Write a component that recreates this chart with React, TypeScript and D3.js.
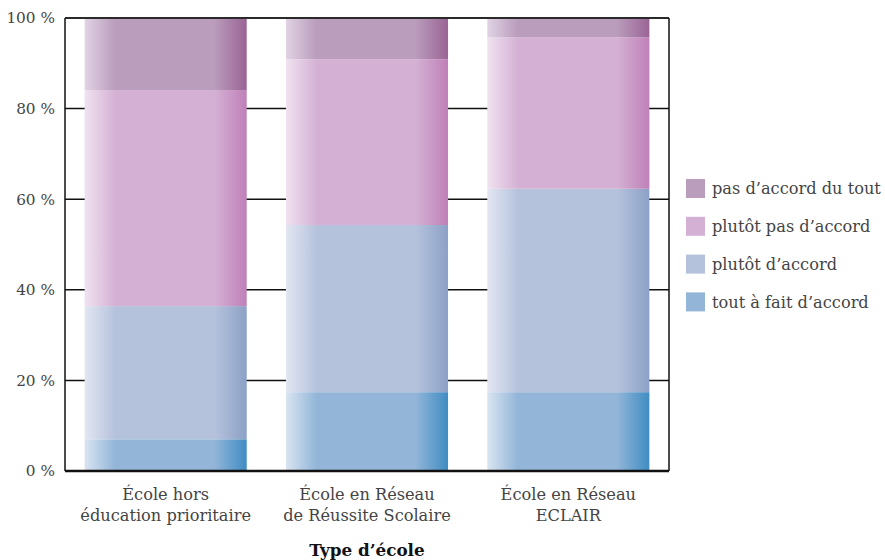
import React from "react";
import * as d3 from "d3";

const categories = [
  ["École hors", "éducation prioritaire"],
  ["École en Réseau", "de Réussite Scolaire"],
  ["École en Réseau", "ECLAIR"],
];
const seriesNames = [
  "tout à fait d’accord",
  "plutôt d’accord",
  "plutôt pas d’accord",
  "pas d’accord du tout",
];
const toutAFait = [7, 17.4, 17.4];
const plutotDaccord = [29.4, 36.9, 44.9];
const plutotPas = [47.7, 36.6, 33.4];
const pasDuTout = [15.9, 9.1, 4.3];
const yTicks = [0, 20, 40, 60, 80, 100];

const baseColors = ["#92B5D8", "#B5C2DC", "#D4B1D4", "#BA9CBC"];
const lightColors = ["#D9E4F1", "#E3E6F2", "#F0E2F0", "#E0D3E4"];
const darkColors = ["#3F8DC3", "#8CA1C6", "#BF80B8", "#9A6495"];

const W = 885;
const H = 560;
const left = 65;
const right = 669;
const top = 18;
const bottom = 471;
const font = "'DejaVu Serif', serif";

export default function App() {
  const series = [toutAFait, plutotDaccord, plutotPas, pasDuTout];
  const x = d3
    .scaleBand<number>()
    .domain(d3.range(categories.length))
    .range([left, right])
    .paddingInner(0.195)
    .paddingOuter(0.0975);
  const y = d3.scaleLinear().domain([0, 100]).range([bottom, top]);

  const rows = categories.map((_, i) => {
    const r: Record<string, number> = {};
    series.forEach((s, k) => (r["s" + k] = s[i]));
    return r;
  });
  const stacked = d3.stack<Record<string, number>>().keys(series.map((_, k) => "s" + k))(rows);

  return (
    <svg width={W} height={H} style={{ display: "block", position: "absolute", left: 0, top: 0 }}>
      <defs>
        {baseColors.map((c, k) => (
          <linearGradient key={k} id={"grad" + k} x1="0" x2="1" y1="0" y2="0">
            <stop offset="0" stopColor={lightColors[k]} />
            <stop offset="0.19" stopColor={c} />
            <stop offset="0.8" stopColor={c} />
            <stop offset="1" stopColor={darkColors[k]} />
          </linearGradient>
        ))}
      </defs>
      <rect width={W} height={H} fill="#fff" />
      {/* gridlines */}
      {yTicks.slice(1, -1).map((t) => (
        <line key={t} x1={left} x2={right} y1={y(t)} y2={y(t)} stroke="#111" strokeWidth={1.5} />
      ))}
      {/* stacked bars */}
      {stacked.map((layer, k) =>
        layer.map((d, i) => (
          <rect
            key={k + "-" + i}
            x={x(i)}
            width={x.bandwidth()}
            y={y(d[1])}
            height={y(d[0]) - y(d[1])}
            fill={`url(#grad${k})`}
          />
        ))
      )}
      {/* frame */}
      <line x1={left} x2={right} y1={top} y2={top} stroke="#2a2a2a" strokeWidth={2} />
      <line x1={left} x2={left} y1={top} y2={bottom} stroke="#111" strokeWidth={1.5} />
      <line x1={right} x2={right} y1={top} y2={bottom} stroke="#111" strokeWidth={1.5} />
      <line x1={left} x2={right} y1={bottom} y2={bottom} stroke="#111" strokeWidth={2.5} />
      {/* y tick labels */}
      {yTicks.map((t) => (
        <text
          key={t}
          x={55}
          y={y(t)}
          dy="0.35em"
          textAnchor="end"
          fontFamily={font}
          fontSize={15.3}
          fill="#444"
        >
          {t} %
        </text>
      ))}
      {/* category labels */}
      {categories.map((lines, i) => (
        <text
          key={i}
          x={(x(i) ?? 0) + x.bandwidth() / 2}
          textAnchor="middle"
          fontFamily={font}
          fontSize={16.2}
          fill="#444"
        >
          {lines.map((l, j) => (
            <tspan key={j} x={(x(i) ?? 0) + x.bandwidth() / 2} y={500 + j * 21}>
              {l}
            </tspan>
          ))}
        </text>
      ))}
      <text x={367} y={556} textAnchor="middle" fontFamily={font} fontSize={16.8} fontWeight="bold" fill="#111">
        Type d’école
      </text>
      {/* legend */}
      {seriesNames
        .map((name, k) => ({ name, k }))
        .reverse()
        .map(({ name, k }, j) => (
          <g key={k} transform={`translate(686, ${179 + j * 37.8})`}>
            <rect width={19} height={19} fill={baseColors[k]} />
            <text x={26} y={9.5} dy="0.35em" fontFamily={font} fontSize={16.2} fill="#444">
              {name}
            </text>
          </g>
        ))}
    </svg>
  );
}
